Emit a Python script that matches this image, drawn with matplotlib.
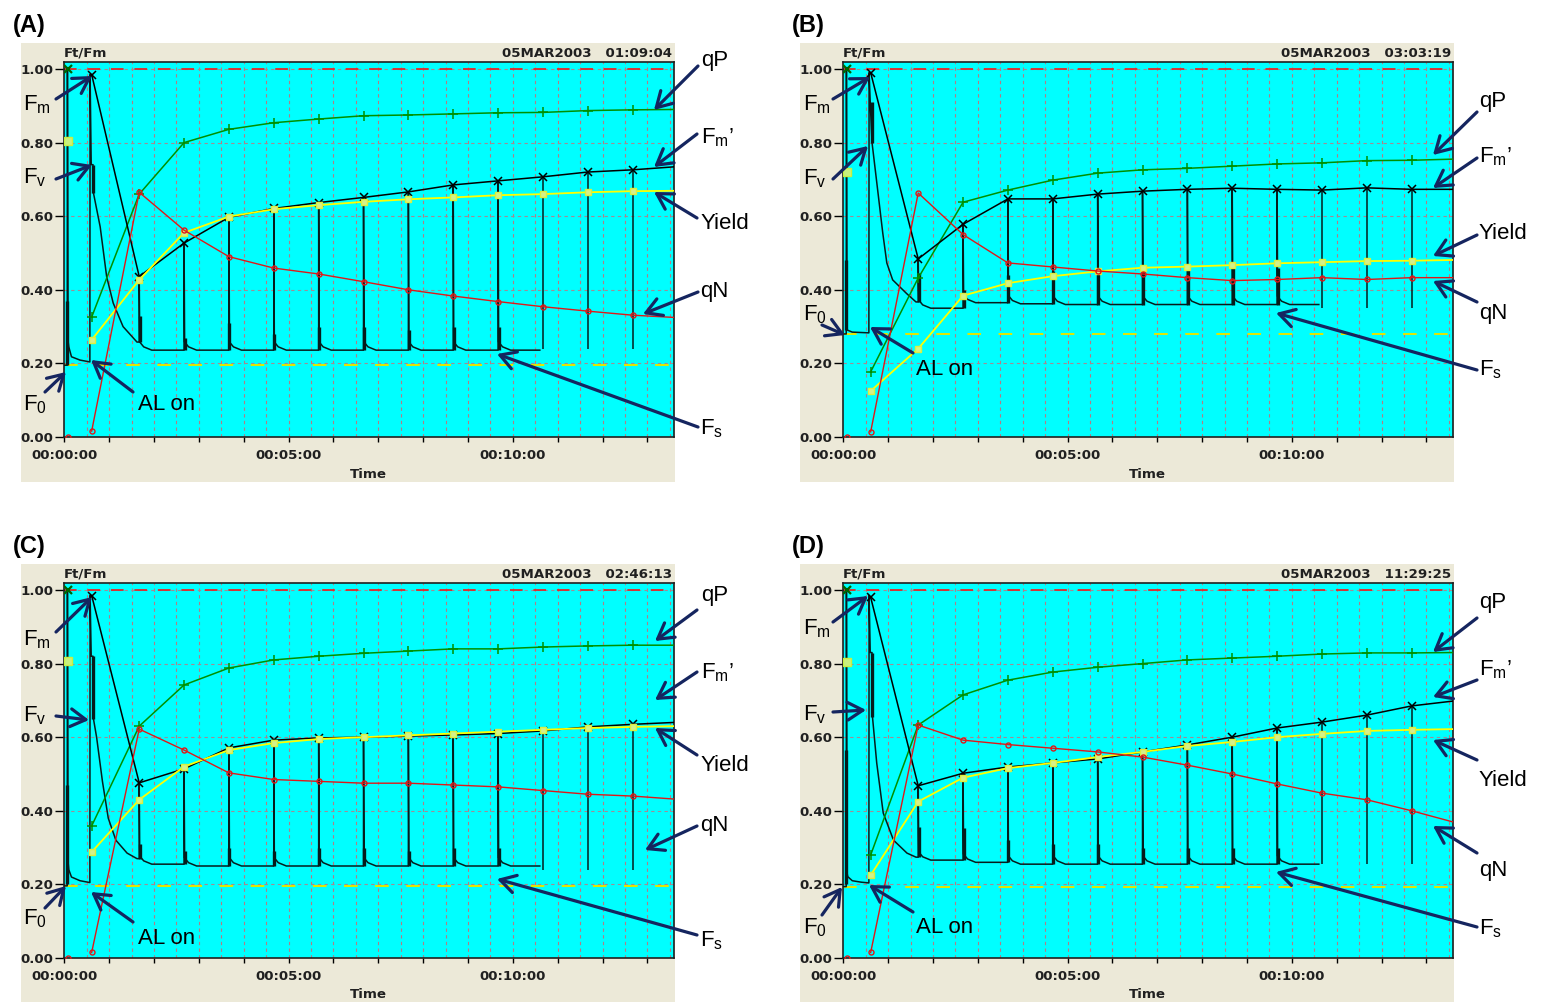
import numpy as np
import matplotlib.pyplot as plt
from matplotlib.ticker import FixedLocator, NullFormatter

W, H = 1543, 1002
plt.rcParams['mathtext.fontset'] = 'custom'
plt.rcParams['mathtext.rm'] = 'Liberation Sans'
plt.rcParams['mathtext.it'] = 'Liberation Sans'
plt.rcParams['mathtext.default'] = 'regular'

# ---- time axis (minutes) ----
MARK_T = [0.61, 1.67, 2.67, 3.67, 4.67, 5.67, 6.67, 7.67, 8.67, 9.67, 10.67, 11.67, 12.67]
END_T = 13.58
T0 = 0.08
PULSE_T = MARK_T[1:]
TRACE_STOP = 10.6
# small relaxation after each saturating pulse
DECAY_DT = [0.012, 0.1, 0.28]
DECAY_DY = [0.022, 0.009, 0.0]

# ---- panel A ----
QP_A = [0.326, 0.66, 0.80, 0.836, 0.854, 0.864, 0.873, 0.875, 0.878, 0.881, 0.882, 0.887, 0.889, 0.89]
FMP_A = [0.985, 0.436, 0.527, 0.597, 0.621, 0.637, 0.651, 0.666, 0.685, 0.696, 0.707, 0.72, 0.726, 0.734]
YIELD_A = [0.264, 0.427, 0.555, 0.599, 0.619, 0.63, 0.639, 0.646, 0.651, 0.657, 0.66, 0.665, 0.668, 0.669]
QN_A = [0.016, 0.665, 0.562, 0.49, 0.459, 0.443, 0.422, 0.40, 0.383, 0.368, 0.354, 0.342, 0.331, 0.325]
DARK_A = [1.0, 0.805, 0.0]          # qP, yield, qN at t0
F0_A = 0.195
HEAD_T_A = [0, 0.065, 0.07, 0.085, 0.1, 0.16, 0.35, 0.57, 0.575, 0.6, 0.64, 0.65, 0.80, 0.945, 1.09, 1.31, 1.62]
HEAD_Y_A = [0.195, 0.195, 1.0, 0.26, 0.245, 0.218, 0.209, 0.204, 0.985, 0.74, 0.74, 0.663, 0.571, 0.435, 0.364, 0.30, 0.258]
HEAD_THICK_A = [(0.06, 0.195, 0.37), (0.63, 0.663, 0.74)]
FS_A = [0.236, 0.236, 0.236, 0.236, 0.236, 0.236, 0.236, 0.236, 0.236, 0.24, 0.24, 0.24]
BUMP_A = [0.33, 0.27, 0.31, 0.28, 0.30, 0.30, 0.29, 0.30, 0.30, 0.24, 0.24, 0.24]

# ---- panel B ----
QP_B = [0.177, 0.432, 0.638, 0.671, 0.698, 0.717, 0.726, 0.73, 0.736, 0.742, 0.745, 0.751, 0.752, 0.755]
FMP_B = [0.99, 0.484, 0.578, 0.647, 0.647, 0.66, 0.668, 0.673, 0.676, 0.673, 0.671, 0.677, 0.673, 0.673]
YIELD_B = [0.125, 0.24, 0.384, 0.418, 0.437, 0.45, 0.46, 0.463, 0.467, 0.472, 0.475, 0.478, 0.479, 0.481]
QN_B = [0.014, 0.663, 0.55, 0.473, 0.462, 0.451, 0.443, 0.433, 0.425, 0.428, 0.433, 0.428, 0.433, 0.433]
DARK_B = [1.0, 0.72, 0.0]
F0_B = 0.28
HEAD_T_B = [0, 0.065, 0.07, 0.085, 0.1, 0.2, 0.57, 0.575, 0.6, 0.64, 0.66, 0.88, 0.97, 1.1, 1.41, 1.62]
HEAD_Y_B = [0.28, 0.28, 1.0, 0.29, 0.29, 0.285, 0.283, 0.99, 0.91, 0.80, 0.78, 0.554, 0.473, 0.427, 0.39, 0.367]
HEAD_THICK_B = [(0.06, 0.29, 0.48), (0.63, 0.80, 0.91)]
FS_B = [0.35, 0.365, 0.362, 0.36, 0.36, 0.36, 0.36, 0.36, 0.36, 0.35, 0.35, 0.35]
BUMP_B = [0.445, 0.40, 0.44, 0.45, 0.45, 0.46, 0.46, 0.46, 0.46, 0.35, 0.35, 0.35]

# ---- panel C ----
QP_C = [0.359, 0.63, 0.742, 0.788, 0.81, 0.82, 0.828, 0.834, 0.84, 0.84, 0.845, 0.848, 0.85, 0.85]
FMP_C = [0.985, 0.476, 0.514, 0.571, 0.592, 0.598, 0.60, 0.603, 0.606, 0.61, 0.617, 0.628, 0.635, 0.64]
YIELD_C = [0.288, 0.43, 0.52, 0.565, 0.584, 0.595, 0.60, 0.605, 0.61, 0.615, 0.62, 0.625, 0.628, 0.63]
QN_C = [0.015, 0.622, 0.565, 0.503, 0.485, 0.48, 0.475, 0.475, 0.47, 0.465, 0.455, 0.445, 0.44, 0.432]
DARK_C = [1.0, 0.807, 0.0]
F0_C = 0.196
HEAD_T_C = [0, 0.065, 0.07, 0.085, 0.1, 0.16, 0.35, 0.57, 0.575, 0.6, 0.64, 0.65, 0.72, 0.85, 0.98, 1.15, 1.4, 1.62]
HEAD_Y_C = [0.196, 0.196, 1.0, 0.26, 0.24, 0.22, 0.21, 0.205, 0.985, 0.82, 0.82, 0.65, 0.60, 0.48, 0.38, 0.32, 0.285, 0.27]
HEAD_THICK_C = [(0.06, 0.2, 0.47), (0.63, 0.65, 0.82)]
FS_C = [0.255, 0.25, 0.25, 0.25, 0.25, 0.25, 0.25, 0.25, 0.25, 0.24, 0.24, 0.24]
BUMP_C = [0.31, 0.29, 0.30, 0.29, 0.30, 0.30, 0.29, 0.30, 0.30, 0.24, 0.24, 0.24]

# ---- panel D ----
QP_D = [0.28, 0.633, 0.715, 0.755, 0.777, 0.79, 0.80, 0.81, 0.815, 0.82, 0.826, 0.829, 0.829, 0.83]
FMP_D = [0.98, 0.468, 0.502, 0.519, 0.53, 0.541, 0.56, 0.579, 0.60, 0.625, 0.641, 0.66, 0.685, 0.698]
YIELD_D = [0.225, 0.425, 0.49, 0.516, 0.53, 0.546, 0.56, 0.576, 0.587, 0.60, 0.609, 0.617, 0.62, 0.622]
QN_D = [0.015, 0.633, 0.592, 0.58, 0.57, 0.56, 0.546, 0.524, 0.50, 0.473, 0.448, 0.43, 0.40, 0.37]
DARK_D = [1.0, 0.805, 0.0]
F0_D = 0.194
HEAD_T_D = [0, 0.065, 0.07, 0.085, 0.1, 0.2, 0.4, 0.57, 0.575, 0.6, 0.64, 0.65, 0.745, 0.89, 1.12, 1.42, 1.62]
HEAD_Y_D = [0.194, 0.194, 1.0, 0.23, 0.221, 0.21, 0.206, 0.204, 0.985, 0.83, 0.83, 0.656, 0.53, 0.394, 0.32, 0.285, 0.274]
HEAD_THICK_D = [(0.06, 0.2, 0.565), (0.63, 0.656, 0.83)]
FS_D = [0.266, 0.26, 0.255, 0.255, 0.255, 0.255, 0.255, 0.255, 0.255, 0.255, 0.255, 0.255]
BUMP_D = [0.357, 0.352, 0.32, 0.31, 0.31, 0.30, 0.30, 0.30, 0.30, 0.255, 0.255, 0.255]

STAMPS = ['05MAR2003   01:09:04', '05MAR2003   03:03:19', '05MAR2003   02:46:13', '05MAR2003   11:29:25']
PANEL_IDS = ['(A)', '(B)', '(C)', '(D)']

# annotation labels (text, x px, baseline px) and arrows (tail, tip) in image pixels
LABELS = [
    [("qP", 701, 66), ("$F_m$’", 701, 143), ("Yield", 701, 229), ("qN", 700, 297), ("$F_s$", 700, 434),
     ("$F_m$", 23, 110), ("$F_v$", 23, 183), ("$F_0$", 23, 410), ("AL on", 138, 410)],
    [("qP", 1479, 107), ("$F_m$’", 1479, 162), ("Yield", 1479, 239), ("qN", 1479, 319), ("$F_s$", 1479, 375),
     ("$F_m$", 803, 110), ("$F_v$", 803, 184), ("$F_0$", 803, 320), ("AL on", 916, 375)],
    [("qP", 701, 601), ("$F_m$’", 701, 678), ("Yield", 701, 771), ("qN", 700, 831), ("$F_s$", 700, 946),
     ("$F_m$", 23, 645), ("$F_v$", 23, 721), ("$F_0$", 23, 924), ("AL on", 138, 944)],
    [("qP", 1479, 608), ("$F_m$’", 1479, 675), ("Yield", 1479, 786), ("qN", 1479, 876), ("$F_s$", 1479, 934),
     ("$F_m$", 803, 634), ("$F_v$", 803, 720), ("$F_0$", 803, 933), ("AL on", 916, 933)],
]
ARROWS = [
    [((698, 66), (654, 110)), ((697, 134), (654, 167)), ((697, 218), (654, 192)), ((698, 292), (643, 314)),
     ((698, 427), (497, 354)), ((56, 99), (92, 76)), ((56, 179), (92, 165)), ((45, 392), (66, 372)),
     ((133, 392), (91, 360))],
    [((1477, 112), (1433, 155)), ((1477, 158), (1433, 188)), ((1477, 235), (1433, 256)), ((1477, 302), (1433, 281)),
     ((1477, 370), (1276, 313)), ((833, 99), (870, 77)), ((833, 179), (868, 146)), ((822, 325), (845, 335)),
     ((913, 353), (870, 327))],
    [((697, 610), (655, 641)), ((697, 672), (655, 700)), ((697, 755), (655, 728)), ((697, 826), (645, 850)),
     ((697, 935), (497, 879)), ((56, 632), (92, 597)), ((56, 716), (89, 720)), ((45, 908), (66, 886)),
     ((133, 922), (91, 892))],
    [((1477, 618), (1433, 652)), ((1477, 680), (1433, 697)), ((1477, 760), (1433, 740)), ((1477, 853), (1433, 826)),
     ((1477, 927), (1276, 872)), ((833, 622), (868, 596)), ((833, 712), (866, 710)), ((822, 915), (842, 887)),
     ((913, 912), (869, 885))],
]

NAVY = '#15255f'
BEIGE = '#ece9d8'
CYAN = '#00ffff'
TRACE = '#061c1c'
TXT = '#202020'


def build_trace(head_t, head_y, fs, fmp):
    t, y = list(head_t), list(head_y)
    for i, tp in enumerate(PULSE_T):
        if tp > TRACE_STOP:
            break
        t += [tp, tp] + [tp + d for d in DECAY_DT]
        y += [y[-1], fmp[i + 1]] + [fs[i] + d for d in DECAY_DY]
    t.append(TRACE_STOP)
    y.append(y[-1])
    return t, y


def draw_panel(ax, qp, fmp, yld, qn, dark, f0, head_t, head_y, head_thick, fs, bump):
    ax.set_facecolor(CYAN)
    ax.set_xlim(0, END_T)
    ax.set_ylim(0, 1.019)
    for v in np.arange(0.5, 13.6, 0.5):
        ax.axvline(v, color='#b47c84', lw=0.8, ls=(0, (3, 3)), zorder=1)
    for h in [0.2, 0.4, 0.6, 0.8, 1.0]:
        ax.axhline(h, color='#a08c94', lw=0.8, ls=(0, (3, 3)), zorder=1)
    ax.axhline(1.0, color='#e02828', lw=1.3, ls=(0, (7, 6)), zorder=1.5)
    ax.axhline(f0, color='#e6e600', lw=1.4, ls=(0, (7, 9)), zorder=1.5)

    # fluorescence trace
    tt, ty = build_trace(head_t, head_y, fs, fmp)
    ax.plot(tt, ty, color=TRACE, lw=1.1, zorder=3)
    for (tx, lo, hi) in head_thick:
        ax.vlines(tx, lo, hi, color=TRACE, lw=2.4, zorder=3)
    prev = head_y[-1]
    for i, tp in enumerate(PULSE_T):
        if tp > TRACE_STOP:
            ax.vlines(tp, fs[i], fmp[i + 1], color=TRACE, lw=1.1, zorder=3)
        else:
            ax.vlines(tp + 0.01, prev, bump[i], color=TRACE, lw=2.4, zorder=3)
            prev = fs[i]

    lt = MARK_T + [END_T]
    mk = list(range(len(MARK_T)))
    ax.plot(lt, qp, color='#009000', lw=1.1, marker='+', ms=7, mew=1.1, markevery=mk, zorder=4)
    ax.plot(lt, fmp, color='black', lw=1.1, marker='x', ms=6, mew=1.1, markevery=mk, zorder=4)
    ax.plot(lt, yld, color='#ffff00', lw=1.3, marker='s', ms=4.8, mfc='#d4f28a', mec='#dcef40',
            markevery=mk, zorder=5)
    ax.plot(lt, qn, color='#e01818', lw=1.0, marker='o', ms=3.6, mfc='none', mew=1.0, markevery=mk, zorder=5)
    ax.plot([T0], [dark[0]], marker='x', ms=6, mew=1.6, color='#006400', zorder=6)
    ax.plot([T0], [dark[1]], marker='s', ms=5.5, mfc='#c8f080', mec='#c8f040', zorder=6)
    ax.plot([T0], [dark[2]], marker='o', ms=3.6, mfc='none', mec='#e01818', zorder=6)

    ax.set_yticks([0, 0.2, 0.4, 0.6, 0.8, 1.0])
    ax.set_yticklabels(['0.00', '0.20', '0.40', '0.60', '0.80', '1.00'])
    ax.set_xticks([0, 5, 10])
    ax.set_xticklabels(['00:00:00', '00:05:00', '00:10:00'])
    ax.xaxis.set_minor_locator(FixedLocator([1, 2, 3, 4, 6, 7, 8, 9, 11, 12, 13]))
    ax.xaxis.set_minor_formatter(NullFormatter())
    ax.tick_params(axis='y', length=6.5, width=1, pad=1.2, labelsize=9.6, direction='out')
    ax.tick_params(axis='x', which='both', length=3.6, width=1, pad=5, labelsize=9.6, direction='out')
    for lab in ax.get_xticklabels() + ax.get_yticklabels():
        lab.set_fontweight('bold')
        lab.set_color(TXT)
    for s in ax.spines.values():
        s.set_linewidth(1.2)
        s.set_color(TXT)


fig = plt.figure(figsize=(W / 100, H / 100), dpi=100)
fig.patch.set_facecolor('white')

bg = fig.add_axes([0, 0, 1, 1], zorder=-5)
bg.set_xlim(0, W)
bg.set_ylim(H, 0)
bg.axis('off')

ov = fig.add_axes([0, 0, 1, 1], zorder=10)
ov.set_xlim(0, W)
ov.set_ylim(H, 0)
ov.axis('off')
ov.patch.set_alpha(0)

panels = [
    (QP_A, FMP_A, YIELD_A, QN_A, DARK_A, F0_A, HEAD_T_A, HEAD_Y_A, HEAD_THICK_A, FS_A, BUMP_A),
    (QP_B, FMP_B, YIELD_B, QN_B, DARK_B, F0_B, HEAD_T_B, HEAD_Y_B, HEAD_THICK_B, FS_B, BUMP_B),
    (QP_C, FMP_C, YIELD_C, QN_C, DARK_C, F0_C, HEAD_T_C, HEAD_Y_C, HEAD_THICK_C, FS_C, BUMP_C),
    (QP_D, FMP_D, YIELD_D, QN_D, DARK_D, F0_D, HEAD_T_D, HEAD_Y_D, HEAD_THICK_D, FS_D, BUMP_D),
]

for k, p in enumerate(panels):
    dx = 779 * (k % 2)
    dy = 521 * (k // 2)
    bg.add_patch(plt.Rectangle((21 + dx, 43 + dy), 654, 439, color=BEIGE, lw=0))
    left, right, top, bottom = 64.3 + dx, 673.5 + dx, 62 + dy, 437 + dy
    ax = fig.add_axes([left / W, 1 - bottom / H, (right - left) / W, (bottom - top) / H], zorder=1)
    draw_panel(ax, *p)

    ov.text(64 + dx, 53 + dy, 'Ft/Fm', fontsize=9.6, fontweight='bold', color=TXT,
            ha='left', va='center')
    ov.text(672 + dx, 53 + dy, STAMPS[k], fontsize=9.6, fontweight='bold', color=TXT,
            ha='right', va='center')
    ov.text(368 + dx, 474 + dy, 'Time', fontsize=9.6, fontweight='bold', color=TXT,
            ha='center', va='center')
    ov.text(13 + dx, 32 + dy, PANEL_IDS[k], fontsize=17, fontweight='bold', family='Liberation Sans',
            ha='left', va='baseline', color='black')
    for (txt, x, yb) in LABELS[k]:
        ov.text(x, yb, txt, fontsize=16, family='Liberation Sans', ha='left', va='baseline', color='black')
    for (tail, tip) in ARROWS[k]:
        ov.annotate('', xy=tip, xytext=tail, annotation_clip=False,
                    arrowprops=dict(arrowstyle='->,head_length=0.55,head_width=0.32', lw=2.3, color=NAVY,
                                    shrinkA=0, shrinkB=0, mutation_scale=20))

fig.savefig('out.png', dpi=100, facecolor='white')
